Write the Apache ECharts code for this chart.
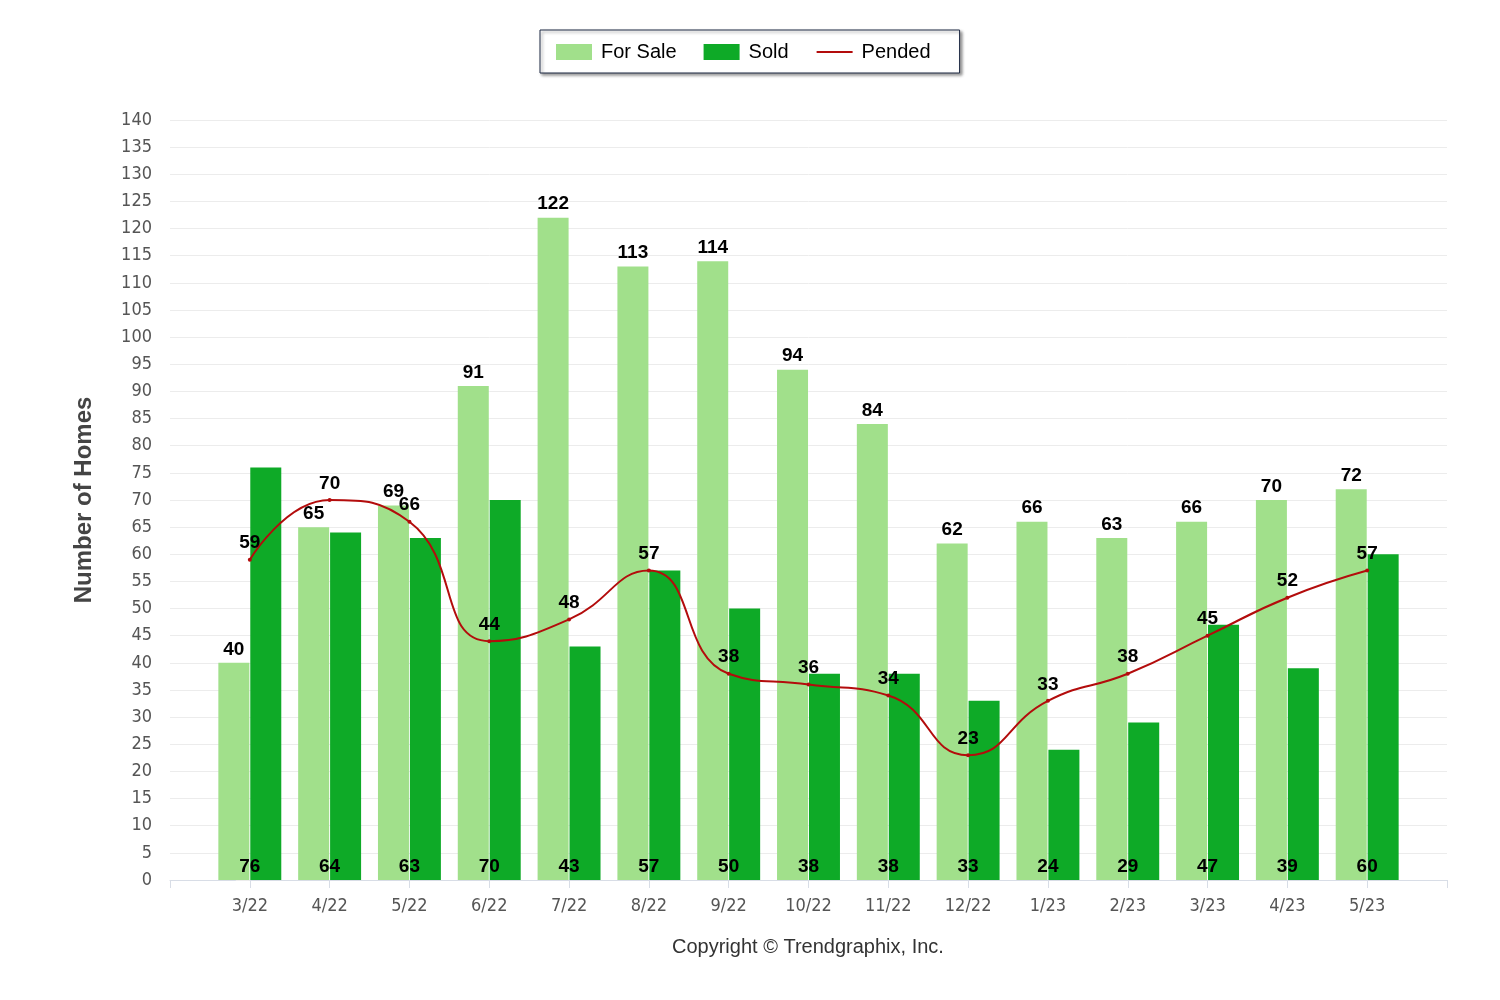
<!DOCTYPE html>
<html>
<head>
<meta charset="utf-8">
<script src="https://cdn.jsdelivr.net/npm/echarts@6/dist/echarts.min.js"></script>
<style>
html,body{margin:0;padding:0;background:#fff;}
#chart{width:1500px;height:1000px;}
</style>
</head>
<body>
<div id="chart"></div>
<script>
const categories = ['3/22','4/22','5/22','6/22','7/22','8/22','9/22','10/22','11/22','12/22','1/23','2/23','3/23','4/23','5/23'];
const forSale = [40,65,69,91,122,113,114,94,84,62,66,63,66,70,72];
const sold = [76,64,63,70,43,57,50,38,38,33,24,29,47,39,60];
const pended = [59,70,66,44,48,57,38,36,34,23,33,38,45,52,57];

const toPairs = arr => arr.map((v, i) => [i, v]);
const labelFont = {fontFamily: 'Arial, "Liberation Sans", sans-serif', fontWeight: 'bold', fontSize: 19, color: '#000'};
const axisFont = '"Liberation Sans Narrow", "DejaVu Sans Condensed", Arial, sans-serif';

const chart = echarts.init(document.getElementById('chart'));
chart.setOption({
  animation: false,
  backgroundColor: '#fff',
  grid: {left: 170, right: 53, top: 120, bottom: 120},
  legend: {
    top: 30, left: 540,
    data: [{name: 'For Sale', icon: 'rect'}, {name: 'Sold', icon: 'rect'}, {name: 'Pended', itemStyle: {opacity: 0}}],
    itemWidth: 36, itemHeight: 16, itemGap: 27,
    padding: [12, 29, 11, 16],
    borderColor: '#1f2b45', borderWidth: 1, borderRadius: 0,
    backgroundColor: '#fff',
    shadowColor: 'rgba(0,0,0,0.4)', shadowBlur: 3, shadowOffsetX: 2, shadowOffsetY: 2,
    textStyle: {fontFamily: 'Arial, "Liberation Sans", sans-serif', fontSize: 20, color: '#000', padding: [0, 0, 0, 4]}
  },
  xAxis: {
    type: 'value', min: -1, max: 15, interval: 1,
    splitLine: {show: false},
    axisLine: {show: true, lineStyle: {color: '#d8dde6', width: 1}},
    axisTick: {show: true, length: 8, lineStyle: {color: '#d8dde6'}},
    axisLabel: {
      color: '#555', fontSize: 18, fontFamily: axisFont, margin: 17,
      showMinLabel: true, showMaxLabel: true,
      formatter: v => (v >= 0 && v < categories.length) ? categories[v] : ''
    }
  },
  yAxis: {
    type: 'value', min: 0, max: 140, interval: 5,
    name: 'Number of Homes', nameLocation: 'middle', nameGap: 74,
    nameTextStyle: {fontFamily: 'Arial, "Liberation Sans", sans-serif', fontWeight: 'bold', fontSize: 24, color: '#444'},
    axisLine: {show: false},
    axisTick: {show: true, length: 14, lineStyle: {color: '#ececec'}},
    splitLine: {show: true, lineStyle: {color: '#ececec', width: 1}},
    axisLabel: {color: '#555', fontSize: 18, fontFamily: axisFont, margin: 18}
  },
  series: [
    {
      name: 'For Sale', type: 'bar', data: toPairs(forSale),
      barWidth: 31, barGap: '3%',
      itemStyle: {color: '#a1e08b'},
      label: {show: true, position: 'top', distance: 4, ...labelFont},
      z: 2
    },
    {
      name: 'Sold', type: 'bar', data: toPairs(sold),
      barWidth: 31, barGap: '3%',
      itemStyle: {color: '#0eaa27'},
      label: {show: true, position: 'insideBottom', distance: 4, offset: [-16, 0], ...labelFont},
      z: 2
    },
    {
      name: 'Pended', type: 'line', data: toPairs(pended),
      smooth: 0.5,
      symbol: 'circle', symbolSize: 4,
      lineStyle: {color: '#b30c0c', width: 2},
      itemStyle: {color: '#b30c0c'},
      label: {show: true, position: 'top', distance: 5, ...labelFont},
      z: 5
    }
  ],
  graphic: [
    {type: 'text', left: 672, top: 937,
     style: {text: 'Copyright © Trendgraphix, Inc.', fontFamily: 'Arial, "Liberation Sans", sans-serif', fontSize: 20, fill: '#333'}}
  ]
});
</script>
</body>
</html>
